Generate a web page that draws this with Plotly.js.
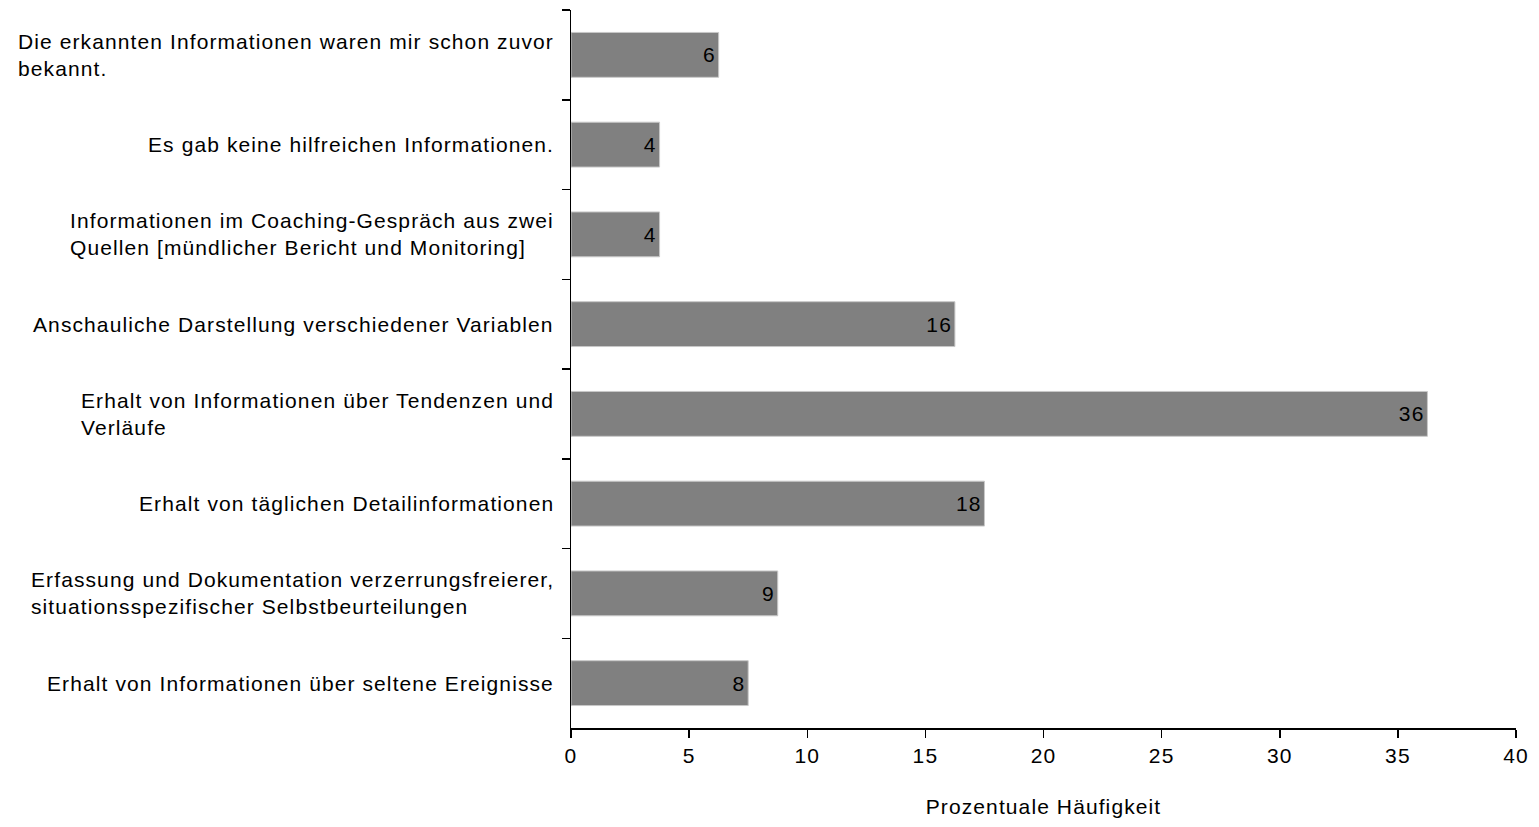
<!DOCTYPE html>
<html>
<head>
<meta charset="utf-8">
<script src="https://cdn.plot.ly/plotly-3.0.1.min.js"></script>
<style>
html,body{margin:0;padding:0;background:#fff;}
#chart{width:1539px;height:827px;}
svg text{letter-spacing:1.1px;}
</style>
</head>
<body>
<div id="chart"></div>
<script>
const categories = [
  "Die erkannten Informationen waren mir schon zuvor<br>bekannt.",
  "Es gab keine hilfreichen Informationen.",
  "Informationen im Coaching-Gespräch aus zwei<br>Quellen [mündlicher Bericht und Monitoring]",
  "Anschauliche Darstellung verschiedener Variablen",
  "Erhalt von Informationen über Tendenzen und<br>Verläufe",
  "Erhalt von täglichen Detailinformationen",
  "Erfassung und Dokumentation verzerrungsfreierer,<br>situationsspezifischer Selbstbeurteilungen",
  "Erhalt von Informationen über seltene Ereignisse"
];
const values = [6.25, 3.75, 3.75, 16.25, 36.25, 17.5, 8.75, 7.5];
const xTitle = "Prozentuale Häufigkeit";

const font = "Liberation Sans, Arial, sans-serif";

const trace = {
  type: 'bar',
  orientation: 'h',
  y: categories,
  x: values,
  width: 0.5,
  marker: {color: '#808080', line: {color: '#c8c8c8', width: 1}},
  texttemplate: '%{x:.0f}',
  textposition: 'inside',
  insidetextanchor: 'end',
  textfont: {family: font, size: 21, color: '#000'},
  hoverinfo: 'skip'
};

const annotations = categories.map(c => ({
  text: c,
  xref: 'paper', yref: 'y',
  x: 0, y: c,
  xanchor: 'right', yanchor: 'middle',
  xshift: -15,
  align: 'left',
  showarrow: false,
  font: {family: font, size: 21, color: '#000'}
}));

const layout = {
  width: 1539, height: 827,
  margin: {l: 571, r: 23, t: 10, b: 99},
  paper_bgcolor: '#fff', plot_bgcolor: '#fff',
  showlegend: false,
  font: {family: font, size: 21, color: '#000'},
  xaxis: {
    range: [0, 40], dtick: 5, tick0: 0,
    showgrid: false, zeroline: false,
    showline: true, linecolor: '#000', linewidth: 1.5,
    ticks: 'outside', ticklen: 8, tickwidth: 1.5, tickcolor: '#000',
    tickfont: {family: font, size: 21, color: '#000'},
    title: {text: xTitle, font: {family: font, size: 21, color: '#000'}, standoff: 33}
  },
  yaxis: {
    type: 'category',
    autorange: 'reversed',
    showgrid: false, zeroline: false,
    showline: true, linecolor: '#000', linewidth: 1.5,
    ticks: 'outside', ticklen: 8, tickwidth: 1.5, tickcolor: '#000',
    tickson: 'boundaries',
    showticklabels: false
  },
  annotations: annotations
};

Plotly.newPlot('chart', [trace], layout, {staticPlot: true, displayModeBar: false});
</script>
</body>
</html>
